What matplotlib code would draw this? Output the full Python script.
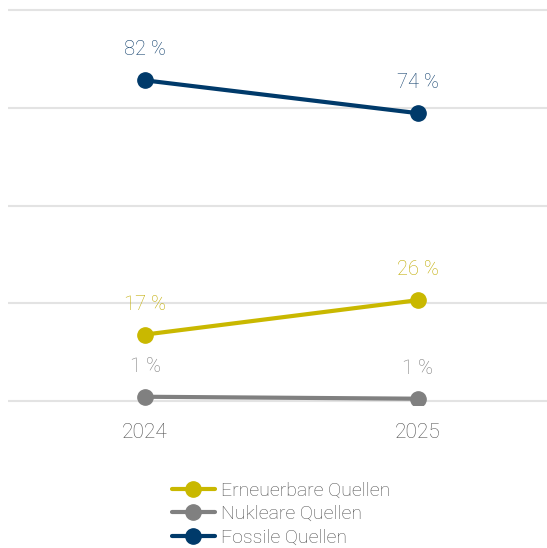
import matplotlib
matplotlib.use("Agg")
import matplotlib.pyplot as plt

plt.rcParams['font.family'] = ['Roboto', 'DejaVu Sans']
plt.rcParams['font.weight'] = 'light'

years = [2024, 2025]
series = ["Erneuerbare Quellen", "Nukleare Quellen", "Fossile Quellen"]
values = {
    "Erneuerbare Quellen": [17, 25.8],
    "Nukleare Quellen": [1.1, 0.6],
    "Fossile Quellen": [82, 73.6],
}
labels = {
    "Erneuerbare Quellen": ["17 %", "26 %"],
    "Nukleare Quellen": ["1 %", "1 %"],
    "Fossile Quellen": ["82 %", "74 %"],
}
colors = {
    "Erneuerbare Quellen": "#c9b800",
    "Nukleare Quellen": "#808080",
    "Fossile Quellen": "#003a6a",
}
label_colors = {
    "Erneuerbare Quellen": "#c0ab00",
    "Nukleare Quellen": "#7a7a7a",
    "Fossile Quellen": "#103f6c",
}

fig = plt.figure(figsize=(5.47, 5.48), dpi=100)
ax = fig.add_axes([8 / 547, 0.261, 539 / 547, 0.728])

for s in series:
    ax.plot(years, values[s], color=colors[s], lw=3, marker='o', ms=11,
            label=s, solid_capstyle='round', zorder=3)
    for x, y, t in zip(years, values[s], labels[s]):
        ax.annotate(t, (x, y), xytext=(0, 22), textcoords='offset points',
                    ha='center', va='center', fontsize=14.5,
                    color=label_colors[s])

ax.set_xlim(2024 - 137 / 273, 2025 + 129 / 273)
ax.set_ylim(-1, 101)
ax.set_yticks([0, 25, 50, 75, 100])
ax.set_yticklabels([])
ax.set_xticks(years)
ax.set_xticklabels([str(y) for y in years])
ax.tick_params(axis='x', length=0, pad=13, labelsize=15, labelcolor='#505050')
ax.tick_params(axis='y', length=0)
ax.grid(axis='y', color='#e3e3e3', lw=1.5)
ax.set_axisbelow(True)
for sp in ax.spines.values():
    sp.set_visible(False)

leg = fig.legend(loc='upper center', bbox_to_anchor=(281 / 547, 1 - 472 / 548),
                 frameon=False, fontsize=14, handlelength=2.2,
                 handletextpad=0.3, labelspacing=0.28, borderpad=0)
for t in leg.get_texts():
    t.set_color('#505050')

fig.savefig("out.png", dpi=100)
